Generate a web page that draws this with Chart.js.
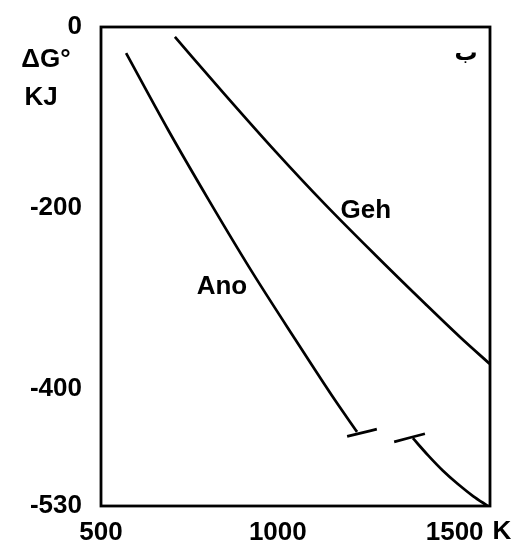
<!DOCTYPE html>
<html>
<head>
<meta charset="utf-8">
<script src="https://cdn.jsdelivr.net/npm/chart.js@4.4.1/dist/chart.umd.min.js"></script>
<style>
  html, body { margin: 0; padding: 0; background: #fff; }
  #wrap { width: 519px; height: 545px; }
</style>
</head>
<body>
<div id="wrap"><canvas id="gibbsChart" width="519" height="545"></canvas></div>
<script>
// temperature (K) and free energy (kJ)
const anoT = [571, 690, 804, 924, 1050, 1162, 1224];
const anoG = [-29, -114, -191, -269, -346, -413, -448];
const anoTailT = [1382, 1425, 1467, 1510, 1552, 1594];
const anoTailG = [-455, -474, -491, -506, -519, -530];
const gehT = [709, 851, 992, 1133, 1275, 1416, 1515, 1600];
const gehG = [-11, -75, -137, -196, -252, -306, -343, -373];

// short bars marking where the Ano curve breaks
const breakEndT = [1196, 1280];
const breakEndG = [-453, -445];
const breakStartT = [1329, 1416];
const breakStartG = [-459, -450];

const xTicks = [500, 1000, 1500];
const yTicks = [0, -200, -400, -530];

const FONT = "'Liberation Sans', Arial, sans-serif";

function toPoints(xs, ys) {
    return xs.map((x, i) => ({ x: x, y: ys[i] }));
}

function curve(label, xs, ys) {
    return {
        label: label,
        data: toPoints(xs, ys),
        borderColor: "#000",
        borderWidth: 2.7,
        pointRadius: 0,
        cubicInterpolationMode: "monotone",
        fill: false
    };
}

// frame around the plot plus the free text labels
const decorations = {
    id: "decorations",
    afterDraw(chart) {
        const c = chart.ctx;
        const a = chart.chartArea;
        const xs = chart.scales.x;
        const ys = chart.scales.y;
        c.save();
        c.strokeStyle = "#000";
        c.lineWidth = 2.8;
        c.strokeRect(a.left, a.top, a.right - a.left, a.bottom - a.top);

        c.fillStyle = "#000";
        c.textAlign = "center";
        c.textBaseline = "middle";
        c.font = "bold 26px " + FONT;
        c.fillText("\u0394G\u00b0", 46, 60);
        c.fillText("KJ", 41, 98);
        c.fillText("K", 502, 532);

        c.fillText("Ano", xs.getPixelForValue(842), ys.getPixelForValue(-288));
        c.fillText("Geh", xs.getPixelForValue(1249), ys.getPixelForValue(-203));

        c.font = "bold 23px 'DejaVu Sans', sans-serif";
        c.fillText("\u0628", xs.getPixelForValue(1532), ys.getPixelForValue(-30));
        c.restore();
    }
};

new Chart(document.getElementById("gibbsChart").getContext("2d"), {
    type: "line",
    data: {
        datasets: [
            curve("Ano", anoT, anoG),
            curve("Ano tail", anoTailT, anoTailG),
            curve("Geh", gehT, gehG),
            curve("break 1", breakEndT, breakEndG),
            curve("break 2", breakStartT, breakStartG)
        ]
    },
    options: {
        responsive: false,
        animation: false,
        layout: { padding: { top: 27, right: 29, left: 0, bottom: 0 } },
        plugins: {
            legend: { display: false },
            tooltip: { enabled: false }
        },
        scales: {
            x: {
                type: "linear",
                min: 500,
                max: 1600,
                grid: { display: false, drawTicks: false },
                border: { display: false },
                afterBuildTicks: s => { s.ticks = xTicks.map(v => ({ value: v })); },
                afterFit: s => { s.height = 39; },
                ticks: {
                    color: "#000",
                    padding: 11,
                    maxRotation: 0,
                    callback: v => String(v),
                    font: { family: FONT, size: 26, weight: "bold" }
                }
            },
            y: {
                type: "linear",
                min: -530,
                max: 0,
                grid: { display: false, drawTicks: false },
                border: { display: false },
                afterBuildTicks: s => { s.ticks = yTicks.map(v => ({ value: v })); },
                afterFit: s => {
                    s.width = 101;
                    // keep the wide label gap from pushing the plot down
                    s.paddingTop = 0;
                    s.paddingBottom = 0;
                },
                ticks: {
                    color: "#000",
                    padding: 19,
                    callback: v => String(v),
                    font: { family: FONT, size: 26, weight: "bold" }
                }
            }
        }
    },
    plugins: [decorations]
});
</script>
</body>
</html>
